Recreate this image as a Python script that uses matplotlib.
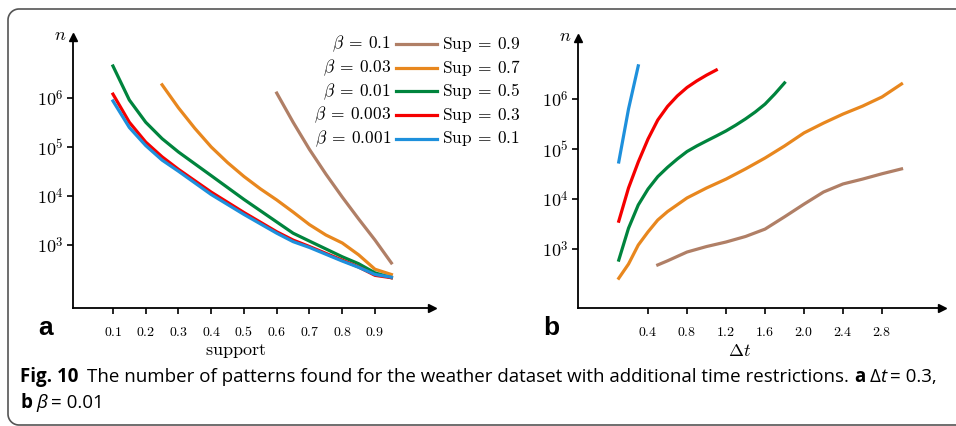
import numpy as np
import matplotlib
matplotlib.use('Agg')
import matplotlib.pyplot as plt

plt.rcParams['mathtext.fontset'] = 'cm'

# ---- data: (a) number of patterns vs support, one line per beta (dt = 0.3)
beta_labels = [r'$\beta\:=\:0.1$', r'$\beta\:=\:0.03$', r'$\beta\:=\:0.01$',
               r'$\beta\:=\:0.003$', r'$\beta\:=\:0.001$']
sup_labels = [r'$\mathrm{Sup}\:=\:0.9$', r'$\mathrm{Sup}\:=\:0.7$', r'$\mathrm{Sup}\:=\:0.5$',
              r'$\mathrm{Sup}\:=\:0.3$', r'$\mathrm{Sup}\:=\:0.1$']
colors = ['#b07f66', '#e8871e', '#00843d', '#f50000', '#1e90dc']

sup_full = [0.1, 0.15, 0.2, 0.25, 0.3, 0.4, 0.5, 0.6, 0.65, 0.7, 0.8, 0.85, 0.9, 0.95]
n_b001 = [8.7e5, 2.5e5, 1.07e5, 5.4e4, 3.2e4, 1.07e4, 4.2e3, 1.74e3, 1.17e3, 890, 470, 350, 250, 220]
n_b003 = [1.2e6, 3.2e5, 1.26e5, 6.3e4, 3.5e4, 1.2e4, 4.6e3, 1.86e3, 1.26e3, 930, 490, 355, 240, 215]
n_b01 = [4.5e6, 9.1e5, 3.2e5, 1.48e5, 7.9e4, 2.6e4, 8.5e3, 2.95e3, 1.74e3, 1.2e3, 575, 415, 270, 215]
sup_b03 = [0.25, 0.3, 0.35, 0.4, 0.45, 0.5, 0.55, 0.6, 0.65, 0.7, 0.75, 0.8, 0.85, 0.9, 0.95]
n_b03 = [1.86e6, 6.3e5, 2.4e5, 1.0e5, 4.8e4, 2.5e4, 1.4e4, 8.3e3, 4.7e3, 2.6e3, 1.6e3, 1.1e3, 630, 320, 250]
sup_b1 = [0.6, 0.65, 0.7, 0.75, 0.8, 0.85, 0.9, 0.95]
n_b1 = [1.26e6, 3.2e5, 8.9e4, 2.8e4, 9.5e3, 3.4e3, 1.26e3, 430]

support_ticks = [0.1, 0.2, 0.3, 0.4, 0.5, 0.6, 0.7, 0.8, 0.9]

# ---- data: (b) number of patterns vs dt, one line per support (beta = 0.01)
dt_s1 = [0.1, 0.2, 0.3]
n_s1 = [5.5e4, 6.3e5, 4.6e6]
dt_s3 = [0.1, 0.2, 0.3, 0.4, 0.5, 0.6, 0.7, 0.8, 0.9, 1.0, 1.1]
n_s3 = [3.6e3, 1.66e4, 5.5e4, 1.58e5, 3.8e5, 7.1e5, 1.15e6, 1.7e6, 2.3e6, 3.0e6, 3.8e6]
dt_s5 = [0.1, 0.2, 0.3, 0.4, 0.5, 0.6, 0.7, 0.8, 0.9, 1.0, 1.1, 1.2, 1.3, 1.4, 1.5, 1.6, 1.7, 1.8]
n_s5 = [600, 2.6e3, 7.6e3, 1.58e4, 2.8e4, 4.3e4, 6.3e4, 8.9e4, 1.15e5, 1.45e5, 1.82e5,
        2.3e5, 3.0e5, 4.0e5, 5.5e5, 7.9e5, 1.26e6, 2.1e6]
dt_s7 = [0.1, 0.2, 0.3, 0.4, 0.5, 0.6, 0.8, 1.0, 1.2, 1.4, 1.6, 1.8, 2.0, 2.2, 2.4, 2.6, 2.8, 3.0]
n_s7 = [260, 500, 1.2e3, 2.2e3, 3.8e3, 5.6e3, 1.05e4, 1.66e4, 2.5e4, 4.0e4, 6.6e4, 1.15e5,
        2.1e5, 3.3e5, 5.0e5, 7.2e5, 1.1e6, 2.0e6]
dt_s9 = [0.5, 0.6, 0.8, 1.0, 1.2, 1.4, 1.6, 1.8, 2.0, 2.2, 2.4, 2.6, 2.8, 3.0]
n_s9 = [480, 580, 870, 1.12e3, 1.38e3, 1.78e3, 2.5e3, 4.4e3, 7.9e3, 1.38e4, 2.0e4, 2.5e4, 3.2e4, 4.0e4]

dt_ticks = [0.4, 0.8, 1.2, 1.6, 2.0, 2.4, 2.8]
y_ticks = [1e3, 1e4, 1e5, 1e6]
y_ticklabels = [r'$10^{3}$', r'$10^{4}$', r'$10^{5}$', r'$10^{6}$']

W, H = 956, 426
fig = plt.figure(figsize=(W / 100, H / 100), dpi=100)


def fx(px):
    return px / W


def fy(py):
    return 1 - py / H


def arrow_axes(ax, xlim, ylim):
    ax.set_yscale('log')
    ax.set_xlim(xlim)
    ax.set_ylim(ylim)
    for s in ['top', 'right']:
        ax.spines[s].set_visible(False)
    for s in ['left', 'bottom']:
        ax.spines[s].set_linewidth(1.3)
    ax.plot(1, 0, '>k', ms=6, transform=ax.transAxes, clip_on=False)
    ax.plot(0, 1, '^k', ms=6, transform=ax.transAxes, clip_on=False)
    ax.set_yticks(y_ticks)
    ax.set_yticklabels(y_ticklabels, fontsize=13)
    ax.minorticks_off()
    ax.tick_params(axis='y', direction='out', length=4, width=1.2, pad=3)
    ax.tick_params(axis='x', direction='out', length=4, width=1.2, pad=8)
    ax.patch.set_alpha(0)


# (a)
ax1 = fig.add_axes([fx(73), fy(308), fx(432) - fx(73), fy(37) - fy(308)])
arrow_axes(ax1, (-0.022, 1.074), (10 ** 1.714, 10 ** 7.245))
ax1.plot(sup_b1, n_b1, color=colors[0], lw=2.3)
ax1.plot(sup_b03, n_b03, color=colors[1], lw=2.3)
ax1.plot(sup_full, n_b01, color=colors[2], lw=2.3)
ax1.plot(sup_full, n_b003, color=colors[3], lw=2.3)
ax1.plot(sup_full, n_b001, color=colors[4], lw=2.3)
ax1.set_xticks(support_ticks)
ax1.set_xticklabels([r'$%.1f$' % v for v in support_ticks], fontsize=10)

# (b)
ax2 = fig.add_axes([fx(578), fy(308), fx(942) - fx(578), fy(38) - fy(308)])
arrow_axes(ax2, (-0.318, 3.415), (10 ** 1.82, 10 ** 7.22))
ax2.plot(dt_s9, n_s9, color=colors[0], lw=2.3)
ax2.plot(dt_s7, n_s7, color=colors[1], lw=2.3)
ax2.plot(dt_s5, n_s5, color=colors[2], lw=2.3)
ax2.plot(dt_s3, n_s3, color=colors[3], lw=2.3)
ax2.plot(dt_s1, n_s1, color=colors[4], lw=2.3)
ax2.set_xticks(dt_ticks)
ax2.set_xticklabels([r'$%.1f$' % v for v in dt_ticks], fontsize=10)

# axis names and panel letters
fig.text(fx(60), fy(35), r'$n$', fontsize=13, ha='center', va='center')
fig.text(fx(565), fy(36), r'$n$', fontsize=13, ha='center', va='center')
fig.text(fx(236), fy(351), r'$\mathrm{support}$', fontsize=13, ha='center', va='center')
fig.text(fx(740), fy(351), r'$\Delta t$', fontsize=13, ha='center', va='center')
fig.text(fx(46), fy(328), 'a', fontsize=19, fontweight='bold', family='Liberation Sans',
         ha='center', va='center')
fig.text(fx(551), fy(328), 'b', fontsize=19, fontweight='bold', family='Liberation Sans',
         ha='center', va='center')

# shared legend: beta on the left (panel a), Sup on the right (panel b)
for i in range(5):
    yy = fy(44 + i * 23.7)
    fig.add_artist(plt.Line2D([fx(396), fx(437)], [yy, yy], color=colors[i], lw=2.3))
    fig.text(fx(391), yy, beta_labels[i], fontsize=12.5, ha='right', va='center')
    fig.text(fx(442), yy, sup_labels[i], fontsize=12.5, ha='left', va='center')

# frame round the figure (top and left edge, rounded corners), in pixels
r = 11
a1 = np.linspace(np.pi / 2, np.pi, 20)
a2 = np.linspace(np.pi, 1.5 * np.pi, 20)
px = np.concatenate([[W + 5], 8 + r + r * np.cos(a1), 8 + r + r * np.cos(a2), [W + 5]])
py = np.concatenate([[9], 9 + r - r * np.sin(a1), 425 - r - r * np.sin(a2), [425]])
fig.add_artist(plt.Line2D(fx(px), fy(py), color='#555555', lw=1.2))

# caption, built piece by piece so bold / italic parts sit in line
cap_font = ['Liberation Sans Narrow', 'Open Sans', 'DejaVu Sans']
line1 = [('Fig. 10', 'bold', 'normal', 9), ('The number of patterns found for the weather dataset '
         'with additional time restrictions.', 'normal', 'normal', 5),
         ('a', 'bold', 'normal', 4), ('\u0394', 'normal', 'normal', 0),
         ('t', 'normal', 'italic', 4), ('= 0.3,', 'normal', 'normal', 0)]
line2 = [('b', 'bold', 'normal', 4), ('\u03b2', 'normal', 'italic', 4),
         ('= 0.01', 'normal', 'normal', 0)]


def put_line(parts, x0, base, size):
    renderer = fig.canvas.get_renderer()
    x = x0
    texts = []
    for txt, wt, st, gap in parts:
        t = fig.text(fx(x), fy(base), txt, fontsize=size, fontweight=wt, fontstyle=st,
                     family=cap_font, va='baseline', ha='left')
        texts.append(t)
        x += t.get_window_extent(renderer).width + gap
    return texts, x - x0


size = 12
tmp, width = put_line(line1, 20, 382, size)
for t in tmp:
    t.remove()
size = size * 918 / width
put_line(line1, 20, 382, size)
put_line(line2, 20, 408, size)

fig.savefig('out.png', dpi=100)
